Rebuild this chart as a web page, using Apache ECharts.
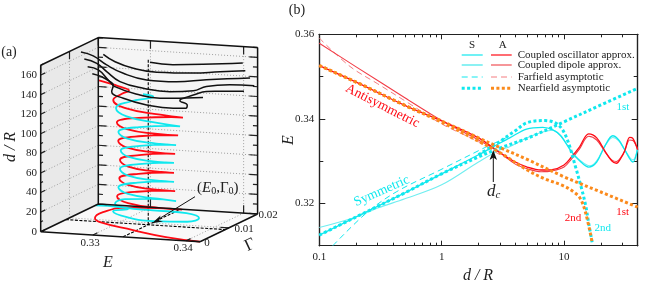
<!DOCTYPE html>
<html><head><meta charset="utf-8">
<style>html,body{margin:0;padding:0;background:#fff}#c{width:650px;height:285px}</style>
<script src="https://cdn.jsdelivr.net/npm/echarts@6/dist/echarts.min.js"></script>
</head><body><div id="c"></div>
<script>
// ---------- Panel (b) values: [d/R], [E]
const dNearA1=[0.1,0.2,0.5,1,2,3,5,10,20,40];
const eNearA1=[.3526,.3487,.3432,.3395,.3355,.3332,.3304,.3263,.3227,.3191];
const dNearA2=[0.1,0.2,0.5,1,2,3,5,7,10,12,13.5,15,17];
const eNearA2=[.3526,.3487,.3432,.3392,.3347,.3320,.3279,.3258,.3241,.3227,.3213,.3178,.3107];
const dNearS1=[0.1,0.2,0.5,1,2,3,5,10,20,40];
const eNearS1=[.3125,.3168,.3225,.3270,.3310,.3331,.3354,.3393,.3433,.3472];
const dNearS2=[2,3,4,5,7,8.95,10.5,12.4,14,15,16,17];
const eNearS2=[.3315,.3347,.3372,.3391,.3396,.3386,.3355,.3287,.3232,.3196,.3149,.3107];
const dOscA=[0.1,0.2,0.5,1,2,3,4,5,6.5,8,10,11.5,13.4,15.9,18.5,21.6,24.5,26.8,29.3,31.3,34.4,36.5,40];
const eOscA=[.3526,.3487,.3432,.3395,.3355,.3320,.3298,.3286,.3279,.3280,.3291,.3310,.3334,.33645,.3355,.3324,.3301,.3295,.3308,.3324,.3356,.3354,.3327];
const dDipA=[0.1,0.2,0.5,1,1.5,2,3,4,5,6.5,8,10,11.5,13.4,15.9,18.5,21.6,24.5,26.8,29.3,31.3,34.4,36.5,40];
const eDipA=[.3579,.3523,.3450,.3396,.3369,.3350,.3320,.3293,.3282,.3275,.3277,.3286,.3305,.3329,.3359,.3350,.3322,.3303,.3299,.3310,.3324,.3350,.3349,.3327];
const dOscS=[0.1,0.2,0.5,1,2,3,3.6,4.94,6.7,8.1,9.4,11.5,13.4,15.9,18.5,21.6,25,28,31.3,36.5,40];
const eOscS=[.3125,.3168,.3225,.3270,.3315,.3343,.3355,.3376,.3380,.3374,.3360,.3322,.3301,.3286,.3298,.3336,.3360,.3350,.3327,.3298,.3331];
const dDipS=[0.1,0.2,0.3,0.5,1,2,3,3.6,4.94,6.7,8.1,9.4,11.5,13.4,16.2,18.5,21.6,25,28,31.3,36.5,40];
const eDipS=[.3143,.3168,.3189,.3211,.3244,.3298,.3327,.3334,.3355,.3369,.3373,.3360,.3324,.3303,.3289,.3301,.3336,.3356,.3348,.3327,.3303,.3331];
const dFarS=[.129,.244,.43,.97,2.48,2.88,3.5];
const eFarS=[.31,.3178,.3228,.3279,.3338,.3346,.3358];
const dFarA=[.1,.178,.3,.518,1,2,3,4.5];
const eFarA=[.3591,.3524,.3483,.3440,.3388,.3346,.3315,.3291];
const xMajor=[0.1,1,10];
const xMinor=[.2,.3,.4,.5,.6,.7,.8,.9,2,3,4,5,6,7,8,9,20,30,40];
const yMajor=[.32,.34,.36];
const yMinor=[.31,.33,.35];

// ---------- Panel (a) values: E, Gamma, d along each curve
const redE=[.3415,.33753,.33338,.32873,.32744,.32738,.32934,.33286,.33627,
 .33452,.33104,.32929,.33085,.33396,.33552,
 .33402,.33103,.32953,.33100,.33393,.33540,
 .33395,.33105,.32960,.33108,.33404,.33552,
 .33399,.33094,.32941,.33102,.33423,.33584,
 .33420,.3309,.32926,.33104,.33459,.33637,
 .33450,.33075,.32888,.32925,.33000,.33037,.32857,.32695];
const redG=[0,.001,.003,.0066,.009,.012,.014,.013,.0107,
 .00886,.00886,.0107,.01254,.01254,.0107,
 .00886,.00886,.0107,.01254,.01254,.0107,
 .00886,.00886,.0107,.01254,.01254,.0107,
 .00886,.00886,.0107,.01254,.01254,.0107,
 .00886,.00886,.0107,.01254,.01254,.0107,
 .00886,.00886,.0107,.01254,.01254,.0107,.0116,.012];
const redD=[0,1,2.8,3,3,4.8,7.7,10.7,14.6,
 17.7,20.7,23.8,26.9,29.9,33,
 36.1,39.2,42.25,45.3,48.4,51.5,
 54.75,58,61.25,64.5,67.75,71,
 74.2,77.3,80.5,83.7,86.8,90,
 93.1,96.2,99.3,102.4,105.5,108.6,
 113.1,117.5,122,126,130,134.2,136.5,139];
const cyanE=[.3244,.32765,.32914,.32833,.33088,.33428,.33808,.33880,.33671,.33317,.33035,.3296,.33004,.33273,.33584,
 .33424,.33103,.32943,.33092,.33391,.33540,
 .33395,.33105,.32960,.33105,.33395,.33540,
 .33397,.33111,.32968,.33117,.33413,.33562,
 .33408,.33098,.32943,.33109,.33440,.33605,
 .33433,.33089,.32917,.33017,.33218,.33318,.33210];
const cyanG=[.019,.017,.015,.0124,.009,.007,.0066,.0084,.0108,.0106,.01,.009,.011,.011,.01,
 .00886,.00886,.0107,.01254,.01254,.0107,
 .00886,.00886,.0107,.01254,.01254,.0107,
 .00886,.00886,.0107,.01254,.01254,.0107,
 .00886,.00886,.0107,.01254,.01254,.0107,
 .00886,.00886,.0107,.01254,.01254,.0107,.0106];
const cyanD=[0,3.1,4.7,5.8,6,6.9,9,10.7,11,12,14,19,21,23,24,
 27.05,30.1,33.15,36.2,39.25,42.3,
 45.5,48.8,52,55.2,58.5,61.7,
 64.75,67.8,70.85,73.9,77,80,
 83.25,86.5,89.75,93,96.25,99.5,
 104.4,109.2,114.1,118.7,123.4,128,130];
const blackAE=[.33273,.33519,.33750,.34053];
const blackAG=[.011,.011,.014,.018];
const blackAD=[162.5,161.5,159,156.5];
const blackBE=[.32772,.32991,.33187,.33345,.33646,.33808,.34080];
const blackBG=[.011,.008,.008,.011,.014,.018,.018];
const blackBD=[167.6,165.6,160.1,152.7,149.4,146.2,148.8];
const blackCE=[.32532,.32664,.32808,.32987,.33237,.33466,.33662,.34131];
const blackCG=[.011,.011,.011,.011,.011,.014,.018,.018];
const blackCD=[168.5,165.3,157,149.5,144.2,139.5,137.1,141.7];
const blackDE=[.32568,.32702,.32808,.32951,.33201,.33488,.33646,.33662,.33912,.34114];
const blackDG=[.011,.011,.011,.011,.011,.011,.014,.018,.018,.02];
const blackDD=[161.6,158,150.2,140.8,135.5,133.7,131.4,130.2,133.4,130.8];
const blackEE=[.32604,.32719,.32825,.32897,.33165,.33381,.33502,.33646,.33662,.34066];
const blackEG=[.011,.011,.011,.011,.011,.011,.014,.014,.018,.018];
const blackED=[154,151.3,141.7,135.3,128.4,126.4,122.8,127,125.1,127.7];
const blackFE=[.32654,.32755,.32844,.32879,.32862,.32987,.33237,.33522,.33659,.33673,.33594,.33662,.33842];
const blackFG=[.011,.011,.011,.011,.011,.011,.011,.011,.011,.011,.011,.011,.011];
const blackFD=[147.1,144.6,140.1,137,130,124,118.7,117,117.8,121.2,125.2,128.3,129.9];
const dTicks=[0,20,40,60,80,100,120,140,160];
const dMinorTicks=[10,30,50,70,90,110,130,150,170];
const eTicks=[.33,.34];
const gTicks=[0,.01,.02];
const E0=.33324, G0=.00875;
const Emin=.3244, Emax=.3415, Gmax=.02, dMax=170;

// ---------- projection of panel (a)
function P(E,G,d){
  const e=(E-Emin)/(Emax-Emin), g=G/Gmax;
  return [40.7+159.3*e+57.6*g, 231.7+10*e-27.7*g-0.979*d];
}
const curve=(Es,Gs,Ds)=>Es.map((v,i)=>P(v,Gs[i],Ds[i]));
const zip=(a,b)=>a.map((v,i)=>[v,b[i]]);
function segs(list){const out=[];list.forEach(s=>{out.push(P(...s[0]),P(...s[1]),['-','-']);});return out;}

function line3(data,color,width,extra){
  return Object.assign({type:'line',xAxisIndex:0,yAxisIndex:0,data,showSymbol:false,silent:true,animation:false,
    connectNulls:false,lineStyle:{color,width}},extra||{});
}
const walls=[
 {pts:[[Emin,0,0],[Emin,Gmax,0],[Emin,Gmax,dMax],[Emin,0,dMax]],fill:'#e9e9e9'},
 {pts:[[Emin,Gmax,0],[Emax,Gmax,0],[Emax,Gmax,dMax],[Emin,Gmax,dMax]],fill:'#f5f5f5'},
 {pts:[[Emin,0,0],[Emax,0,0],[Emax,Gmax,0],[Emin,Gmax,0]],fill:'#f9f9f9'}
];
const wallSeries={type:'custom',xAxisIndex:0,yAxisIndex:0,silent:true,animation:false,clip:false,
  data:walls.map((w,i)=>[i]),
  encode:{x:0,y:0},
  renderItem:(p,api)=>{const w=walls[api.value(0)];
    return {type:'polygon',shape:{points:w.pts.map(c=>api.coord(P(...c)))},style:{fill:w.fill}};}};

const dotted=[];
dTicks.forEach(d=>{ if(d>0){
  dotted.push([[Emin,0,d],[Emin,Gmax,d]],[[Emin,Gmax,d],[Emax,Gmax,d]]);}});
eTicks.forEach(E=>{dotted.push([[E,0,0],[E,Gmax,0]],[[E,Gmax,0],[E,Gmax,dMax]]);});
dotted.push([[Emin,.01,0],[Emin,.01,dMax]],[[Emin,.01,0],[Emax,.01,0]]);

const ticks=[];
dTicks.forEach(d=>{ticks.push([[Emin,0,d],[Emin,.0016,d]],[[Emin,Gmax,d],[Emin+.0009,Gmax,d]],[[Emax,Gmax,d],[Emax-.0009,Gmax,d]]);});
dMinorTicks.forEach(d=>{ticks.push([[Emin,0,d],[Emin,.0008,d]],[[Emin,Gmax,d],[Emin+.0005,Gmax,d]],[[Emax,Gmax,d],[Emax-.0005,Gmax,d]]);});
eTicks.forEach(E=>{ticks.push([[E,0,0],[E,.0016,0]],[[E,Gmax,dMax],[E,Gmax,dMax-8]],[[E,Gmax,0],[E,Gmax,8]]);});
gTicks.forEach(G=>{ticks.push([[Emax,G,0],[Emax-.0009,G,0]],[[Emin,G,dMax],[Emin,G,dMax-8]]);});

const box=[
 [[Emin,0,0],[Emin,0,dMax]],[[Emin,Gmax,0],[Emin,Gmax,dMax]],[[Emax,Gmax,0],[Emax,Gmax,dMax]],
 [[Emin,0,0],[Emax,0,0]],[[Emax,0,0],[Emax,Gmax,0]],[[Emin,0,0],[Emin,Gmax,0]],[[Emin,Gmax,0],[Emax,Gmax,0]],
 [[Emin,0,dMax],[Emin,Gmax,dMax]],[[Emin,Gmax,dMax],[Emax,Gmax,dMax]]
];
const black=[[blackAE,blackAG,blackAD],[blackBE,blackBG,blackBD],[blackCE,blackCG,blackCD],
             [blackDE,blackDG,blackDD],[blackEE,blackEG,blackED],[blackFE,blackFG,blackFD]];

const cRed='#ff0a14',cCyan='#10e8ee',cOrange='#fb8a1c',cPink='#f47c80',cLtCyan='#70eef0';
function line2(ds,es,color,width,type,extra){
  return Object.assign({type:'line',xAxisIndex:1,yAxisIndex:1,data:zip(ds,es),showSymbol:false,silent:true,animation:false,
    smooth:.35,lineStyle:{color,width,type:type||'solid',cap:'butt'}},extra||{});
}
const series=[
  wallSeries,
  line3(segs(dotted),'#9a9a9a',1,{lineStyle:{color:'#a0a0a0',width:1,type:[1,2]}}),
  line3(segs([[[E0,G0,0],[E0,G0,dMax]],[[E0,0,0],[E0,Gmax,0]],[[Emin,G0,0],[Emax,G0,0]]]),'#000',1,{lineStyle:{color:'#000',width:1.1,type:[3,1.5]}}),
  line3(curve(redE,redG,redD),cRed,1.8,{smooth:.5}),
  line3(curve(cyanE,cyanG,cyanD),cCyan,1.8,{smooth:.5}),
  ...black.map(b=>line3(curve(b[0],b[1],b[2]),'#111',1.5,{smooth:.45})),
  line3(segs(ticks),'#222',1.2),
  line3(segs(box),'#111',1.5),
  // panel (b)
  line2(dFarS,eFarS,cCyan,1,[6,4]),
  line2(dFarA,eFarA,cPink,1,[6,4]),
  line2(dDipS,eDipS,cLtCyan,1.1),
  line2(dDipA,eDipA,'#f23c46',1.1),
  line2(dOscS,eOscS,cCyan,1.3),
  line2(dOscA,eOscA,cRed,1.3),
  line2(dNearS2,eNearS2,cCyan,3,[3,2.4]),
  line2(dNearS1,eNearS1,cCyan,3,[3,2.4]),
  line2(dNearA1,eNearA1,cOrange,3,[3,2.4]),
  line2(dNearA2,eNearA2,cOrange,3,[3,2.4]),
];
const serif='"Liberation Serif","Times New Roman",serif';
const T=(x,y,text,size,opt)=>{opt=opt||{};return {type:'text',x,y,rotation:opt.rot||0,silent:true,z:50,
  style:{text,font:(opt.it?'italic ':'')+size+'px '+serif,fill:opt.fill||'#222',align:opt.align||'center',verticalAlign:'middle',rich:opt.rich}};};
const L=(x1,y1,x2,y2,color,width,dash)=>({type:'line',silent:true,z:50,shape:{x1,y1,x2,y2},style:{stroke:color,lineWidth:width,lineDash:dash||null}});
const deg=Math.PI/180;
const graphic=[
 T(9,52,'(a)',14),T(297,10,'(b)',14),
 ...dTicks.map(d=>T(37,P(Emin,0,d)[1],String(d),11,{align:'right'})),
 T(90,243,'0.33',11),T(183,248,'0.34',11),
 T(207,243,'0',11),T(244,229,'0.01',11),T(268,215,'0.02',11),
 T(108,263,'E',16,{it:true}),T(250,245,'Γ',17,{rot:25*deg}),
 T(11,147,'d / R',16,{it:true,rot:90*deg}),
 {type:'text',x:197,y:188,silent:true,z:50,style:{text:'({i|E}{s|0},Γ{s|0})',font:'15px '+serif,fill:'#222',align:'left',verticalAlign:'middle',
   rich:{i:{font:'italic 15px '+serif,fill:'#222'},s:{font:'10px '+serif,fill:'#222',verticalAlign:'bottom',padding:[6,0,0,0]}}}},
 L(195,196.7,156,220.7,'#111',1),
 {type:'polygon',silent:true,z:50,shape:{points:[[152,223.2],[160.5,215.5],[159,220.5],[163,221.5]]},style:{fill:'#111'}},
 T(289,140,'E',16,{it:true,rot:90*deg}),
 T(478,276,'d / R',16,{it:true}),
 T(382.5,106,'Antisymmetric',13.5,{fill:cRed,rot:-27*deg}),
 T(381.7,191,'Symmetric',13.5,{fill:cCyan,rot:24*deg}),
 {type:'text',x:487,y:192,silent:true,z:50,style:{text:'{i|d}{s|c}',font:'16px '+serif,align:'left',verticalAlign:'middle',
   rich:{i:{font:'italic 17px '+serif,fill:'#222'},s:{font:'italic 11px '+serif,fill:'#222',padding:[6,0,0,0]}}}},
 L(493.3,182,493.3,156,'#111',1),
 {type:'polygon',silent:true,z:50,shape:{points:[[493.3,150],[497,160],[493.3,157.5],[489.6,160]]},style:{fill:'#111'}},
 T(623,107,'1st',11,{fill:cCyan}),T(622.7,211.7,'1st',11,{fill:cRed}),
 T(573,218,'2nd',11,{fill:cRed}),T(602.7,228,'2nd',11,{fill:cCyan}),
 T(472,45,'S',11),T(502.7,45,'A',11),
 L(461.7,55,482.7,55,cCyan,1.2),L(491,55,511.7,55,cRed,1.2),
 L(461.7,65,482.7,65,cLtCyan,1.6),L(491,65,511.7,65,cPink,1.6),
 L(461.7,77,482.7,77,cCyan,1,[6,4]),L(491,77,511.7,77,cPink,1,[6,4]),
 L(461.7,88.3,482.7,88.3,cCyan,3,[3,2.4]),L(491,88.3,511.7,88.3,cOrange,3,[3,2.4]),
 T(517.7,55,'Coupled oscillator approx.',11,{align:'left'}),
 T(517.7,65.5,'Coupled dipole approx.',11,{align:'left'}),
 T(517.7,77,'Farfield asymptotic',11,{align:'left'}),
 T(517.7,88.3,'Nearfield asymptotic',11,{align:'left'}),
];
const ax='#222';
const logAx=(position,ticksArr,len,labels)=>({type:'log',logBase:10,gridIndex:1,min:.1,max:40,position,
  axisLine:{show:true,onZero:false,lineStyle:{color:ax,width:1.2}},splitLine:{show:false},minorTick:{show:false},minorSplitLine:{show:false},
  axisTick:{show:true,inside:true,length:len,customValues:ticksArr,lineStyle:{color:ax,width:1}},
  axisLabel:labels?{show:true,customValues:labels,color:'#222',fontFamily:serif,fontSize:11,margin:6,formatter:v=>String(v),hideOverlap:false,showMinLabel:true,showMaxLabel:true}:{show:false}});
const valAx=(position,ticksArr,len,labels)=>({type:'value',gridIndex:1,min:.31,max:.36,position,
  axisLine:{show:true,onZero:false,lineStyle:{color:ax,width:1.2}},splitLine:{show:false},
  axisTick:{show:true,inside:true,length:len,customValues:ticksArr,lineStyle:{color:ax,width:1}},
  axisLabel:labels?{show:true,customValues:labels,color:'#222',fontFamily:serif,fontSize:11,margin:5,formatter:v=>v.toFixed(2)}:{show:false}});
const hidden=(max,inverse)=>({type:'value',gridIndex:0,min:0,max,inverse,show:false});
const option={
  animation:false,backgroundColor:'#fff',
  grid:[{left:0,top:0,width:650,height:285},{left:319.3,top:34.3,width:318.4,height:211.4}],
  xAxis:[hidden(650,false),logAx('bottom',xMajor,5,xMajor),logAx('bottom',xMinor,3),logAx('top',xMajor,5),logAx('top',xMinor,3)],
  yAxis:[hidden(285,true),valAx('left',yMajor,6,yMajor),valAx('left',yMinor,4),valAx('right',yMajor,6),valAx('right',yMinor,4)],
  series,graphic
};
echarts.init(document.getElementById('c'),null,{renderer:'canvas'}).setOption(option);
</script></body></html>
